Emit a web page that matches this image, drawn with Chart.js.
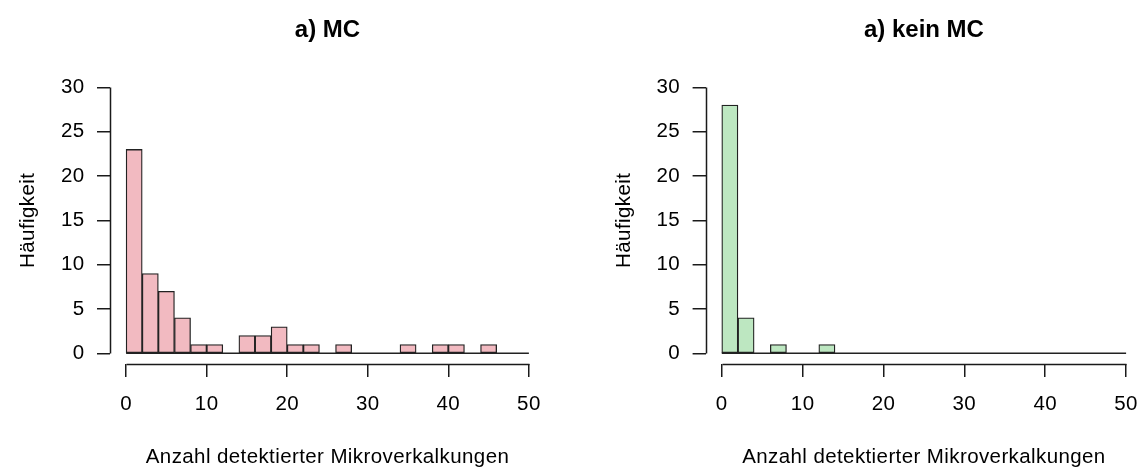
<!DOCTYPE html>
<html>
<head>
<meta charset="utf-8">
<script src="https://cdn.jsdelivr.net/npm/chart.js@4/dist/chart.umd.min.js"></script>
<style>
  html, body { margin: 0; padding: 0; background: #ffffff; overflow: hidden; }
  #wrap { position: relative; width: 1139px; height: 468px; overflow: hidden; }
  canvas { position: absolute; top: 0; }
  #mc { left: 0px; }
  #kein { left: 569px; }
</style>
</head>
<body>
<div id="wrap">
  <canvas id="mc" width="569" height="468"></canvas>
  <canvas id="kein" width="584" height="468"></canvas>
</div>
<script>
// Histogram bin edges (width 2) shared by both panels
const breaks = [0, 2, 4, 6, 8, 10, 12, 14, 16, 18, 20, 22, 24, 26, 28, 30, 32, 34, 36, 38, 40, 42, 44, 46, 48, 50];

// Counts per bin
const mcCounts   = [23, 9, 7, 4, 1, 1, 0, 2, 2, 3, 1, 1, 0, 1, 0, 0, 0, 1, 0, 1, 1, 0, 1, 0, 0];
const keinCounts = [28, 4, 0, 1, 0, 0, 1, 0, 0, 0, 0, 0, 0, 0, 0, 0, 0, 0, 0, 0, 0, 0, 0, 0, 0];

// Axis ticks
const xTicks = [0, 10, 20, 30, 40, 50];
const yTicks = [0, 5, 10, 15, 20, 25, 30];

// Texts
const titleMC = 'a) MC';
const titleKein = 'a) kein MC';
const xLabel = 'Anzahl detektierter Mikroverkalkungen';
const yLabel = 'Häufigkeit';

const FONT = "'Liberation Sans', Arial, Helvetica, sans-serif";
const AXIS_COLOR = '#1a1a1a';
const LABEL_SIZE = 20.5;

Chart.defaults.font.family = FONT;
Chart.defaults.font.size = LABEL_SIZE;
Chart.defaults.color = '#000000';

// Slightly open letter spacing for axis texts
const textSpacing = {
  id: 'textSpacing',
  beforeDraw(chart) { chart.ctx.letterSpacing = '0.4px'; },
  afterDraw(chart) { chart.ctx.letterSpacing = '0px'; }
};

// Title centred over the plotting region
const panelTitle = {
  id: 'panelTitle',
  afterDraw(chart, args, opts) {
    const { ctx, chartArea } = chart;
    ctx.save();
    ctx.letterSpacing = '0px';
    ctx.font = 'bold 24px ' + FONT;
    ctx.fillStyle = '#000';
    ctx.textAlign = 'center';
    ctx.textBaseline = 'alphabetic';
    ctx.fillText(opts.text, (chartArea.left + chartArea.right) / 2, opts.baseline);
    ctx.restore();
  }
};

// Axis lines spanning only the tick range
const rangeAxes = {
  id: 'rangeAxes',
  afterDraw(chart) {
    const { ctx, chartArea, scales } = chart;
    const x = scales.x, y = scales.y;
    const px = v => Math.round(v) + 0.5;
    ctx.save();
    ctx.strokeStyle = AXIS_COLOR;
    ctx.lineWidth = 1.5;
    ctx.beginPath();
    const ax = px(chartArea.left);
    ctx.moveTo(ax, px(y.getPixelForValue(yTicks[0])));
    ctx.lineTo(ax, px(y.getPixelForValue(yTicks[yTicks.length - 1])));
    const ay = px(chartArea.bottom);
    ctx.moveTo(px(x.getPixelForValue(xTicks[0])), ay);
    ctx.lineTo(px(x.getPixelForValue(xTicks[xTicks.length - 1])), ay);
    ctx.stroke();
    ctx.restore();
  }
};

function histData(counts) {
  return counts.map((c, i) => ({ x: (breaks[i] + breaks[i + 1]) / 2, y: c }));
}

function makePanel(canvasId, counts, fill, title, padLeft, padRight) {
  return new Chart(document.getElementById(canvasId), {
    data: {
      datasets: [
        {
          type: 'bar',
          data: histData(counts),
          backgroundColor: fill,
          borderColor: '#222222',
          borderWidth: 1.3,
          borderSkipped: false,
          barPercentage: 1,
          categoryPercentage: 1,
          order: 2
        },
        {
          // zero-height bins drawn as a baseline across the full break range
          type: 'line',
          data: [{ x: breaks[0], y: 0 }, { x: breaks[breaks.length - 1], y: 0 }],
          borderColor: '#222222',
          borderWidth: 1.5,
          pointRadius: 0,
          fill: false,
          order: 1
        }
      ]
    },
    options: {
      responsive: false,
      animation: false,
      devicePixelRatio: 1,
      layout: { padding: { left: padLeft, right: padRight, top: 76.7, bottom: 0 } },
      plugins: {
        legend: { display: false },
        tooltip: { enabled: false },
        title: { display: false },
        panelTitle: { text: title, baseline: 37 }
      },
      scales: {
        x: {
          type: 'linear',
          min: -2,
          max: 52,
          offset: false,
          afterBuildTicks: s => { s.ticks = xTicks.map(v => ({ value: v })); },
          afterFit: s => { s.height = 104; },
          grid: { display: true, drawOnChartArea: false, drawTicks: true, tickLength: 13, color: AXIS_COLOR, lineWidth: 1.5, offset: false },
          border: { display: false },
          ticks: { padding: 15.5, maxRotation: 0, autoSkip: false, color: '#000', font: { size: LABEL_SIZE } },
          title: { display: true, text: xLabel, color: '#000', font: { size: LABEL_SIZE }, padding: { top: 0, bottom: -1.5 } }
        },
        y: {
          type: 'linear',
          min: -1.2,
          max: 31.2,
          afterBuildTicks: s => { s.ticks = yTicks.map(v => ({ value: v })); },
          afterFit: s => { s.width = 110; },
          grid: { display: true, drawOnChartArea: false, drawTicks: true, tickLength: 13, color: AXIS_COLOR, lineWidth: 1.5 },
          border: { display: false },
          ticks: { padding: 12.5, color: '#000', font: { size: LABEL_SIZE } },
          title: { display: true, text: yLabel, color: '#000', font: { size: LABEL_SIZE }, padding: { top: 16, bottom: 0 } }
        }
      }
    },
    plugins: [textSpacing, panelTitle, rangeAxes]
  });
}

makePanel('mc', mcCounts, '#F2BAC1', titleMC, 0, 24);
makePanel('kein', keinCounts, '#BDE7C1', titleKein, 26.6, 0);
</script>
</body>
</html>
